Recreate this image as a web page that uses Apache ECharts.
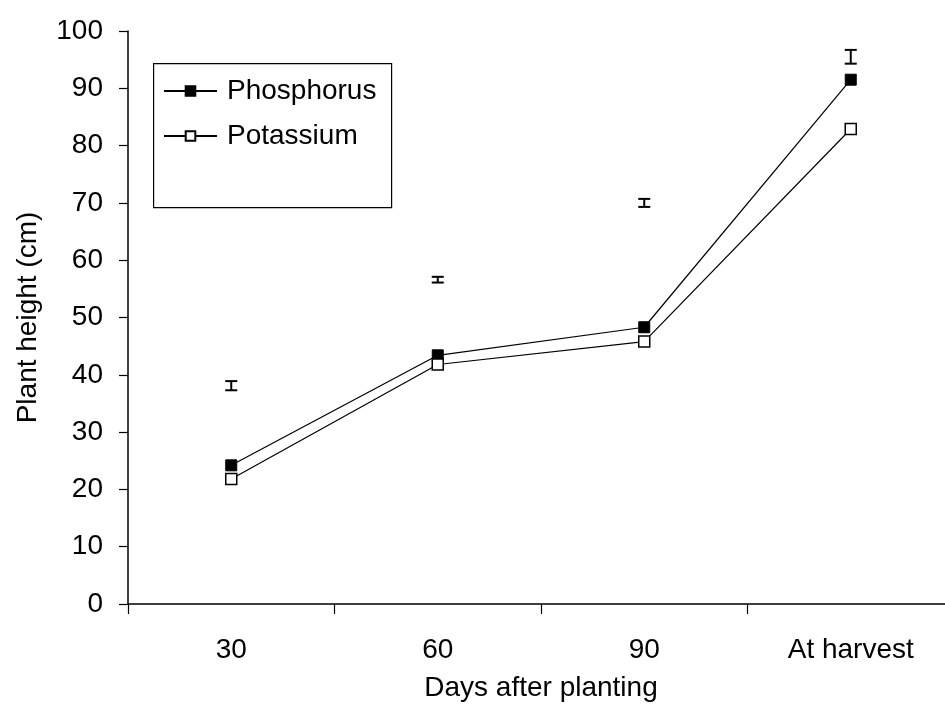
<!DOCTYPE html>
<html>
<head>
<meta charset="utf-8">
<script src="https://cdn.jsdelivr.net/npm/echarts@6/dist/echarts.min.js"></script>
<style>html,body{margin:0;padding:0;background:#fff;}#c{width:945px;height:713px;}</style>
</head>
<body>
<div id="c"></div>
<script>
const categories = ['30', '60', '90', 'At harvest'];
const phosphorus = [24.2, 43.4, 48.3, 91.5];
const potassium = [21.8, 41.8, 45.8, 82.9];
const errCenters = [38.1, 56.6, 70.0, 95.5];
const errHalf = [0.8, 0.5, 0.7, 1.2];
const yTicks = [0, 10, 20, 30, 40, 50, 60, 70, 80, 90, 100];

const FONT = 'Liberation Sans';
const FS = 28;
const chart = echarts.init(document.getElementById('c'), null, {renderer: 'canvas'});
const errData = categories.map((c, i) => [i, errCenters[i], errHalf[i]]);

chart.setOption({
  animation: false,
  backgroundColor: '#ffffff',
  textStyle: {fontFamily: FONT, color: '#000'},
  grid: {left: 128, top: 31, bottom: 109, right: -9, outerBoundsMode: 'none', containLabel: false},
  graphic: [{
    type: 'rect', left: 153, top: 63, z: 0,
    shape: {width: 238, height: 144},
    style: {fill: '#fff', stroke: '#000', lineWidth: 1.2}
  }],
  legend: {
    left: 163, top: 77, orient: 'vertical',
    data: ['Phosphorus', 'Potassium'],
    itemWidth: 53, itemHeight: 12, itemGap: 17,
    padding: 0,
    textStyle: {fontFamily: FONT, fontSize: FS, color: '#000', padding: [0, 0, 0, 5]},
    z: 5
  },
  xAxis: {
    type: 'category', data: categories, boundaryGap: true,
    name: 'Days after planting', nameLocation: 'middle', nameGap: 70,
    nameTextStyle: {fontFamily: FONT, fontSize: FS, color: '#000'},
    axisLine: {lineStyle: {color: '#000', width: 1.5}},
    axisTick: {show: true, length: 10, alignWithLabel: false, lineStyle: {color: '#000', width: 1.2}},
    axisLabel: {fontFamily: FONT, fontSize: FS, color: '#000', margin: 32},
    splitLine: {show: false}
  },
  yAxis: {
    type: 'value', min: 0, max: 100, interval: 10,
    name: 'Plant height (cm)', nameLocation: 'middle', nameGap: 86, nameRotate: 90,
    nameTextStyle: {fontFamily: FONT, fontSize: FS, color: '#000'},
    axisLine: {show: true, lineStyle: {color: '#000', width: 1.5}},
    axisTick: {show: true, length: 9, inside: false, lineStyle: {color: '#000', width: 1.2}},
    axisLabel: {fontFamily: FONT, fontSize: FS, color: '#000', margin: 25,
      formatter: v => yTicks.includes(v) ? String(v) : ''},
    splitLine: {show: false}
  },
  series: [
    {
      name: 'Phosphorus', type: 'line', data: phosphorus,
      symbol: 'rect', symbolSize: 11,
      lineStyle: {color: '#000', width: 1.2},
      itemStyle: {color: '#000', borderColor: '#000', borderWidth: 1},
      z: 3
    },
    {
      name: 'Potassium', type: 'line', data: potassium,
      symbol: 'rect', symbolSize: 11,
      lineStyle: {color: '#000', width: 1.2},
      itemStyle: {color: '#fff', borderColor: '#000', borderWidth: 1.5},
      z: 3
    },
    {
      name: 'err', type: 'custom', data: errData,
      renderItem: function (params, api) {
        const i = api.value(0), c = api.value(1), e = api.value(2);
        const top = api.coord([i, c + e]);
        const bot = api.coord([i, c - e]);
        const w = 6;
        const st = {stroke: '#000', lineWidth: 2};
        return {
          type: 'group',
          children: [
            {type: 'line', shape: {x1: top[0], y1: top[1], x2: bot[0], y2: bot[1]}, style: st},
            {type: 'line', shape: {x1: top[0] - w, y1: top[1], x2: top[0] + w, y2: top[1]}, style: st},
            {type: 'line', shape: {x1: bot[0] - w, y1: bot[1], x2: bot[0] + w, y2: bot[1]}, style: st}
          ]
        };
      },
      z: 3
    }
  ]
});
</script>
</body>
</html>
